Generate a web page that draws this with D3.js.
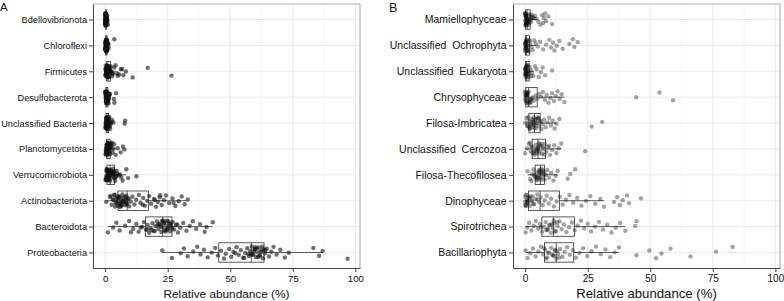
<!DOCTYPE html>
<html>
<head>
<meta charset="utf-8">
<script src="https://cdn.jsdelivr.net/npm/d3@7"></script>
<style>
body { margin: 0; background: #fff; }
svg { display: block; }
text { font-family: "Liberation Sans", Arial, sans-serif; fill: #111; }
</style>
</head>
<body>
<div id="chart"></div>
<script>
// ---- panel A: bacteria ----
const bacteriaCats = ["Bdellovibrionota", "Chloroflexi", "Firmicutes", "Desulfobacterota",
    "Unclassified Bacteria", "Planctomycetota", "Verrucomicrobiota", "Actinobacteriota",
    "Bacteroidota", "Proteobacteria"];

const bdello = [0.1,0.3,0.2,0.5,0.1,0.4,0.2,0.6,0.3,0.1,0.8,0.2,0.4,0.3,0.1,0.5,0.2,0.7,0.3,0.1,0.4,0.2,0.9,0.3,0.5,0.1,0.2,0.6,0.4,1.1,0.2,0.3,0.1,0.5,0.3,0.7,0.2,0.4,0.1,0.3,0.2,0.4,0.1,0.6,0.3,0.2,0.5,0.1,0.3,0.2,0.4,0.7,0.1,0.3,0.2];
const chloro = [0.2,0.5,0.3,0.8,0.1,0.4,0.6,0.2,1.0,0.3,0.7,0.5,0.2,1.3,0.4,0.1,0.6,0.9,0.3,0.5,0.2,1.1,0.4,0.7,0.3,0.1,0.8,0.5,1.5,0.2,0.6,0.4,0.3,0.9,0.2,3.7,0.5,0.1,0.7,0.4,0.3,0.6,0.2,0.5,0.4,0.8,0.1,0.3,0.6,0.2,0.4];
const firmi = [0.3,0.8,1.2,0.5,2.0,0.2,1.5,0.9,3.1,0.4,1.1,2.5,0.7,0.1,1.8,4.2,0.6,1.3,5.0,0.3,2.2,0.9,6.3,1.0,0.5,3.6,7.3,1.6,0.8,4.8,0.2,2.8,8.3,1.4,5.6,0.7,11.0,1.9,17.0,26.5,0.4,1.2,3.0,6.8,0.6,2.4,1.0,0.5,1.7,0.3,0.9,1.3,0.4,2.1,0.7,1.1,0.2,1.5,0.6];
const desulfo = [0.2,0.6,1.0,0.4,1.5,0.3,0.8,1.2,0.1,0.5,1.8,0.7,0.3,1.1,0.9,0.2,1.4,0.6,2.0,0.4,0.8,0.1,1.3,0.5,3.7,0.9,4.4,0.3,1.6,0.7,3.5,0.2,1.0,0.6,0.4,1.2,0.5,0.8,0.3,0.7,0.5,1.0,0.2,0.6,0.9,0.4,1.3];
const unclBact = [0.3,0.8,1.4,0.5,2.0,0.2,1.1,0.7,2.5,0.4,1.6,0.9,0.1,1.3,0.6,1.9,0.3,1.0,2.2,0.5,0.8,3.3,1.2,0.4,8.0,0.7,7.8,1.5,0.2,0.9,1.7,0.6,2.8,0.3,1.1,0.5,1.4,0.7,0.9,0.4,1.2,0.6,1.8,0.8,0.5,1.0];
const plancto = [0.4,1.0,1.8,0.6,2.5,0.2,1.4,0.9,3.0,0.5,1.2,2.1,0.8,0.3,1.6,3.6,0.7,1.1,4.2,0.4,2.3,0.9,5.0,1.3,0.6,7.1,1.9,7.7,0.5,6.2,1.0,2.7,0.3,1.5,0.8,3.3,1.2,0.6,2.0,0.9,1.1,0.7,1.4,0.5,2.2,1.0,0.8,1.6];
const verruco = [0.5,1.2,2.5,0.8,3.6,1.8,0.3,4.2,2.1,1.0,5.0,3.1,0.6,2.8,1.5,6.0,0.9,3.9,2.2,7.0,1.3,4.6,0.4,2.6,8.5,1.7,3.3,0.7,5.5,2.0,9.2,1.1,4.0,12.5,2.4,0.2,3.5,1.6,6.5,2.9,0.8,1.9,2.3,1.4,3.0,0.6,4.4,1.0,1.5,2.7,0.9,3.2,1.8,2.0,0.5,3.7,1.2];
const actino = [0.4,1.9,2.6,3.3,3.9,4.2,4.7,5.1,5.2,5.8,6.1,6.3,6.9,7.2,7.4,8.0,8.3,8.5,8.8,9.1,9.6,10.2,10.9,11.7,12.4,13.5,14.1,15.2,15.9,16.8,17.6,18.4,19.5,20.3,21.1,21.8,22.6,23.5,24.3,25.6,26.9,28.1,29.4,30.6,31.8,33.0,3.6,4.5,5.5,6.6,7.8,2.2,5.9,9.4,4.0,6.7,8.1,15.0,19.9,22.0,27.3,4.9,6.4,7.0,5.3,8.6,3.1,6.0,7.6];
const bactero = [1.1,3.2,4.5,5.8,8.0,9.6,11.2,12.5,13.4,14.8,15.5,16.3,17.0,17.6,18.2,18.9,19.4,20.1,20.7,21.3,21.9,22.5,22.9,23.4,23.8,24.3,24.7,25.1,25.6,26.0,26.5,27.0,27.6,28.3,29.1,30.0,31.2,32.5,33.8,35.0,36.4,37.9,39.8,40.5,43.0,18.5,21.0,23.2,24.9,26.2,19.8,22.1,25.3,16.8,28.8,10.3,14.2,23.6,24.5,25.8,22.7,26.8,21.6,24.1];
const proteo = [22.8,26.7,30.2,31.5,33.0,35.2,36.8,38.1,39.5,41.0,42.6,44.0,45.1,46.3,47.5,48.2,49.6,50.4,51.3,52.5,53.4,54.2,55.1,56.0,56.8,57.5,58.0,58.6,59.2,59.7,60.3,60.8,61.4,61.9,62.5,63.1,63.8,64.6,65.5,66.4,67.3,68.5,70.0,71.8,73.4,83.2,85.5,86.9,96.9,57.2,59.9,61.1,62.2,60.1,58.9,64.0,55.6,52.0,60.6,61.7,59.4,62.8,58.3,63.4];

// box stats (q1, median, q3, whisker ends)
const bacteriaQ1  = [0.15, 0.25, 0.5, 0.3, 0.4, 0.6, 0.7, 5.1, 16.1, 45.4];
const bacteriaMed = [0.3, 0.45, 1.1, 0.65, 0.8, 1.1, 2.0, 8.8, 23.0, 58.4];
const bacteriaQ3  = [0.5, 0.75, 2.2, 1.1, 1.4, 2.0, 3.8, 17.3, 26.7, 63.5];
const bacteriaLo  = [0, 0, 0, 0, 0, 0, 0, 0.4, 1.1, 22.8];
const bacteriaHi  = [1.0, 1.5, 4.5, 2.0, 2.8, 4.2, 8.5, 32.5, 43.0, 86.9];

// ---- panel B: eukaryotes ----
const eukCats = ["Mamiellophyceae", "Unclassified  Ochrophyta", "Unclassified  Eukaryota",
    "Chrysophyceae", "Filosa-Imbricatea", "Unclassified  Cercozoa", "Filosa-Thecofilosea",
    "Dinophyceae", "Spirotrichea", "Bacillariophyta"];

const mamiello = [0.0,0.1,0.3,0.2,0.6,0.1,0.9,0.4,1.2,0.2,1.6,0.5,2.0,0.1,0.8,2.4,0.3,1.1,2.9,0.6,3.4,0.2,1.4,4.0,0.7,4.6,1.8,5.3,0.4,6.1,2.6,6.8,7.2,7.6,8.0,8.4,9.3,10.8,1.0,0.5,2.2,3.1,0.3,0.9,0.1,1.5,0.6,0.2,1.3,0.4];
const ochro = [0.0,0.1,0.2,0.4,0.1,0.6,0.3,0.9,0.2,1.2,0.5,1.6,0.1,2.0,0.7,2.5,0.3,3.0,1.0,3.6,0.4,4.3,1.4,5.1,6.0,7.2,8.4,9.7,10.3,11.1,11.7,12.6,13.7,15.0,17.7,19.1,19.7,21.0,0.8,0.2,1.8,0.5,0.1,1.1,0.3,0.6];
const unclEuk = [0.0,0.1,0.3,0.2,0.5,0.1,0.8,0.4,1.1,0.2,1.4,0.6,1.8,0.3,2.2,0.9,2.7,0.1,3.3,1.2,3.9,0.5,4.6,5.4,6.3,7.0,8.0,10.8,0.7,1.6,0.2,2.4,0.4,1.0,0.6,0.1,1.3,0.3];
const chryso = [0.0,0.1,0.3,0.5,0.2,0.8,1.1,0.4,1.5,1.9,0.6,2.4,3.0,0.9,3.6,4.2,1.3,4.9,5.6,2.0,6.4,7.1,7.9,8.6,9.3,10.1,10.8,11.5,12.2,13.0,13.8,14.6,15.7,44.4,53.7,59.1,0.2,1.7,2.7,0.7,0.4,1.2,0.1,2.2,0.9];
const filosaImb = [0.0,0.5,1.0,1.4,1.8,2.2,2.6,2.9,3.2,3.5,3.8,4.1,4.4,4.8,5.2,5.6,6.0,6.5,7.0,7.6,8.2,8.9,9.6,10.3,11.0,11.8,12.5,13.7,26.6,30.8,1.2,2.4,3.0,3.7,4.6,5.4,0.8,6.3,2.0,3.4,4.2,1.6,2.8,5.0];
const cercozoa = [0.0,0.8,1.5,2.2,2.8,3.3,3.8,4.2,4.6,5.0,5.4,5.8,6.3,6.8,7.3,7.9,8.5,9.2,10.0,10.8,11.6,12.5,13.4,14.4,24.0,2.5,4.0,5.2,6.0,3.1,7.1,1.9,4.8,9.6,5.6,4.4,6.6,3.5,5.3,7.6];
const thecofil = [1.0,2.0,2.8,3.4,3.9,4.3,4.7,5.1,5.5,5.9,6.2,6.6,7.0,7.4,7.8,8.3,8.9,9.6,10.4,11.3,12.2,13.0,17.0,18.0,20.0,4.5,5.7,6.4,3.6,7.2,5.0,6.9,2.5,5.3,6.0,4.8,7.5,5.8];
const dino = [0.0,0.1,0.3,0.6,0.9,1.2,1.6,2.0,2.5,3.0,3.6,4.2,4.9,5.6,6.3,7.0,7.8,8.6,9.5,10.4,11.5,12.6,13.8,15.0,16.3,17.7,19.2,20.8,22.5,24.3,26.1,28.0,30.0,31.5,35.5,36.8,37.9,39.0,40.7,41.5,46.3,0.4,1.0,2.2,3.3,5.0,0.2,0.7,1.4,0.1,2.8];
const spiro = [0.2,0.8,1.6,2.5,3.4,4.3,5.2,6.0,6.8,7.5,8.2,8.9,9.6,10.3,11.0,11.6,12.3,13.0,13.8,14.6,15.5,16.5,17.6,18.7,19.8,21.0,22.3,23.6,25.0,26.4,27.9,29.5,31.1,32.8,34.5,36.2,38.0,40.0,44.0,44.5,9.1,10.7,11.9,6.4,12.8,8.5,10.0,11.4];
const bacill = [0.2,1.0,2.0,3.1,4.2,5.3,6.3,7.2,8.0,8.8,9.6,10.4,11.1,11.8,12.5,13.2,14.0,14.9,15.8,16.8,17.9,19.0,20.3,21.7,23.2,24.8,26.5,28.3,30.2,32.1,34.0,35.8,37.5,44.5,49.6,52.3,54.5,58.1,66.1,76.3,82.9,10.9,12.0,13.6,9.1,7.6,11.5,12.8,8.4];

const eukQ1  = [0.1, 0.1, 0.15, 0.3, 1.5, 2.8, 4.0, 1.3, 6.7, 7.7];
const eukMed = [0.8, 0.5, 0.6, 1.4, 3.75, 5.1, 6.1, 6.0, 11.3, 12.4];
const eukQ3  = [2.0, 1.8, 1.6, 4.8, 6.0, 8.1, 7.7, 13.7, 19.7, 19.4];
const eukLo  = [0, 0, 0, 0, 0, 0, 1.0, 0, 0.2, 0.2];
const eukHi  = [4.8, 4.4, 3.5, 15.7, 12.5, 14.4, 13.0, 31.5, 40.0, 37.5];

const xTicks = [0, 25, 50, 75, 100];
const xMinor = [12.5, 37.5, 62.5, 87.5];

const svg = d3.select("#chart").append("svg")
    .attr("width", 784)
    .attr("height", 301);

drawPanel({
    left: 93, right: 360, top: 4, bottom: 268,
    cats: bacteriaCats,
    values: [bdello, chloro, firmi, desulfo, unclBact, plancto, verruco, actino, bactero, proteo],
    q1: bacteriaQ1, med: bacteriaMed, q3: bacteriaQ3, lo: bacteriaLo, hi: bacteriaHi,
    alpha: 0.6, labelSize: 9.2, labelPad: 2, tickSize: 9.6, titleSize: 11.8,
    letter: "A", letterX: 0, letterY: 11, letterSize: 11.5
});

drawPanel({
    left: 513, right: 780, top: 4, bottom: 268,
    cats: eukCats,
    values: [mamiello, ochro, unclEuk, chryso, filosaImb, cercozoa, thecofil, dino, spiro, bacill],
    q1: eukQ1, med: eukMed, q3: eukQ3, lo: eukLo, hi: eukHi,
    alpha: 0.38, labelSize: 10.5, labelPad: 2.5, tickSize: 10, titleSize: 13.2,
    letter: "B", letterX: 389, letterY: 11.7, letterSize: 12.5
});

function drawPanel(c) {
    var x = d3.scaleLinear().domain([-4.85, 101.85]).range([c.left, c.right]);
    var y = d3.scalePoint().domain(c.cats).range([c.top, c.bottom]).padding(0.6);
    var boxH = y.step() * 0.75;

    var g = svg.append("g");

    // grid
    g.selectAll(".minor").data(xMinor).enter().append("line")
        .attr("x1", d => x(d)).attr("x2", d => x(d))
        .attr("y1", c.top).attr("y2", c.bottom)
        .attr("stroke", "#f0f0f0").attr("stroke-width", 0.6);
    g.selectAll(".major").data(xTicks).enter().append("line")
        .attr("x1", d => x(d)).attr("x2", d => x(d))
        .attr("y1", c.top).attr("y2", c.bottom)
        .attr("stroke", "#e8e8e8").attr("stroke-width", 0.9);
    g.selectAll(".hgrid").data(c.cats).enter().append("line")
        .attr("x1", c.left).attr("x2", c.right)
        .attr("y1", d => y(d)).attr("y2", d => y(d))
        .attr("stroke", "#e8e8e8").attr("stroke-width", 0.9);

    // boxes
    var boxes = g.selectAll(".box").data(c.cats).enter().append("g");
    boxes.append("line")
        .attr("x1", (d, i) => x(c.lo[i])).attr("x2", (d, i) => x(c.q1[i]))
        .attr("y1", d => y(d)).attr("y2", d => y(d));
    boxes.append("line")
        .attr("x1", (d, i) => x(c.q3[i])).attr("x2", (d, i) => x(c.hi[i]))
        .attr("y1", d => y(d)).attr("y2", d => y(d));
    boxes.append("rect")
        .attr("x", (d, i) => x(c.q1[i]))
        .attr("width", (d, i) => Math.max(0.5, x(c.q3[i]) - x(c.q1[i])))
        .attr("y", d => y(d) - boxH / 2)
        .attr("height", boxH)
        .attr("fill", "none");
    boxes.append("line")
        .attr("x1", (d, i) => x(c.med[i])).attr("x2", (d, i) => x(c.med[i]))
        .attr("y1", d => y(d) - boxH / 2).attr("y2", d => y(d) + boxH / 2);
    boxes.selectAll("line, rect")
        .attr("stroke", "#333").attr("stroke-width", 0.8);

    // jittered points (jitter is a fixed visual offset, not data)
    c.cats.forEach(function(cat, k) {
        g.append("g").selectAll("circle")
            .data(c.values[k])
            .enter()
            .append("circle")
            .attr("cx", d => x(d))
            .attr("cy", (d, i) => y(cat) + (((i * 0.6180339887 + k * 0.37) % 1) - 0.5) * 12.5)
            .attr("r", 2.2)
            .attr("fill", "#111")
            .attr("fill-opacity", c.alpha);
    });

    // border: light top/right, dark axis lines left/bottom
    g.append("line").attr("x1", c.left).attr("x2", c.right).attr("y1", c.top).attr("y2", c.top)
        .attr("stroke", "#b3b3b3").attr("stroke-width", 1.2);
    g.append("line").attr("x1", c.right).attr("x2", c.right).attr("y1", c.top).attr("y2", c.bottom)
        .attr("stroke", "#b3b3b3").attr("stroke-width", 1.2);

    var xAxis = g.append("g")
        .attr("transform", "translate(0," + c.bottom + ")")
        .call(d3.axisBottom(x).tickValues(xTicks).tickSize(4).tickPadding(3).tickSizeOuter(0));
    xAxis.select(".domain").attr("stroke", "#444");
    xAxis.selectAll(".tick line").attr("stroke", "#444");
    xAxis.selectAll("text").attr("font-size", c.tickSize).attr("font-family", null).attr("fill", "#111");

    var yAxis = g.append("g")
        .attr("transform", "translate(" + c.left + ",0)")
        .call(d3.axisLeft(y).tickSize(4).tickPadding(c.labelPad).tickSizeOuter(0));
    yAxis.select(".domain").attr("stroke", "#444");
    yAxis.selectAll(".tick line").attr("stroke", "#444");
    yAxis.selectAll("text").attr("font-size", c.labelSize).attr("font-family", null)
        .attr("fill", "#111").style("white-space", "pre");

    svg.append("text")
        .attr("x", (c.left + c.right) / 2)
        .attr("y", 298)
        .attr("text-anchor", "middle")
        .attr("font-size", c.titleSize)
        .text("Relative abundance (%)");

    svg.append("text")
        .attr("x", c.letterX)
        .attr("y", c.letterY)
        .attr("font-size", c.letterSize)
        .text(c.letter);
}
</script>
</body>
</html>
